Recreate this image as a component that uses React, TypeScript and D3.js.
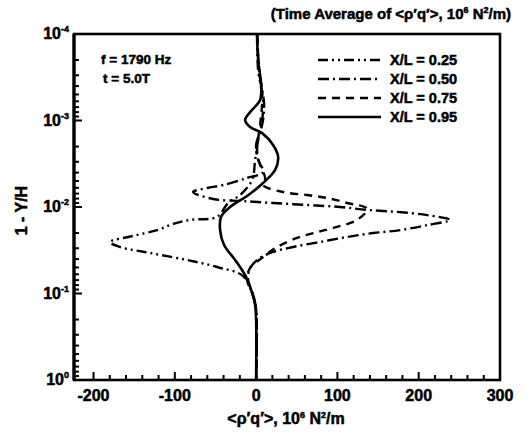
import React from "react";
import * as d3 from "d3";

type Pt = [number, number]; // [<p'q'> value, 1 - Y/H]

const xTickLabels = [-200, -100, 0, 100, 200, 300];
const yDecades = [-4, -3, -2, -1, 0];
const seriesNames = ["X/L = 0.25", "X/L = 0.50", "X/L = 0.75", "X/L = 0.95"];

const xl025: Pt[] = [
  [1.2, 1e-4], [2.5, 2.6e-4], [8.6, 5.8e-4], [7.4, 9.9e-4], [2.5, 1.68e-3],
  [-1.2, 2.86e-3], [-4.9, 4.87e-3], [-19.7, 7.27e-3], [-34.4, 8.99e-3],
  [-48, 1.3e-2], [-81.2, 1.41e-2], [-102, 1.57e-2], [-121.8, 1.85e-2],
  [-151.3, 2.16e-2], [-179.6, 2.54e-2], [-167.3, 2.9e-2], [-130.4, 3.4e-2],
  [-84.9, 4.1e-2], [-48, 4.94e-2], [-16, 6.28e-2], [-4.9, 9.86e-2],
  [0, 0.155], [0, 1],
];

const xl050: Pt[] = [
  [1.2, 1e-4], [3.7, 2.6e-4], [9.8, 6.6e-4], [7.4, 1.13e-3], [0, 1.92e-3],
  [2.5, 2.86e-3], [8.6, 3.94e-3], [-11.1, 4.62e-3], [-40.6, 5.57e-3],
  [-60.3, 6.03e-3], [-77.5, 6.71e-3], [-52.9, 8.09e-3], [-16, 8.53e-3],
  [20.9, 8.99e-3], [62.7, 9.48e-3], [103.3, 1.0e-2], [136.5, 1.08e-2],
  [173.4, 1.14e-2], [210.3, 1.24e-2], [238.6, 1.41e-2], [210.3, 1.62e-2],
  [177.1, 1.85e-2], [143.9, 2.0e-2], [111.9, 2.22e-2], [78.7, 2.54e-2],
  [45.5, 2.9e-2], [20.9, 3.31e-2], [4.9, 3.89e-2], [-7.4, 5.07e-2],
  [-9.8, 6.98e-2], [-3.7, 0.104], [0, 0.155], [0, 1],
];

const xl075: Pt[] = [
  [1.2, 1e-4], [3.7, 2.6e-4], [7.4, 5.8e-4], [4.9, 1.13e-3], [1.2, 2.19e-3],
  [4.9, 3.27e-3], [11.1, 4.62e-3], [8.6, 5.57e-3], [33.2, 6.71e-3],
  [62.7, 7.27e-3], [87.3, 7.87e-3], [111.9, 8.99e-3], [136.5, 1.05e-2],
  [124.2, 1.41e-2], [99.6, 1.7e-2], [75, 1.95e-2], [50.4, 2.28e-2],
  [25.8, 2.9e-2], [8.6, 3.79e-2], [-7.4, 5.07e-2], [-11.1, 6.98e-2],
  [-3.7, 0.104], [0, 0.155], [0, 1],
];

const xl095: Pt[] = [
  [1.2, 1e-4], [2.5, 2.0e-4], [6.2, 3.9e-4], [4.9, 5.8e-4], [-7.4, 8.0e-4],
  [-13.5, 9.9e-4], [-7.4, 1.19e-3], [7.4, 1.4e-3], [20.9, 1.92e-3],
  [27.1, 2.64e-3], [23.4, 3.73e-3], [8.6, 5.28e-3], [-11.1, 7.46e-3],
  [-32, 1.0e-2], [-43.1, 1.3e-2], [-44.3, 1.85e-2], [-39.4, 2.75e-2],
  [-25.8, 4.1e-2], [-12.3, 6.44e-2], [-4.9, 9.86e-2], [-1.2, 0.136],
  [0, 0.202], [0, 1],
];

const seriesData = [xl025, xl050, xl075, xl095];
const dashes = ["10,4,2,4,2,4", "11,4,2,4", "8,6", ""];

const FONT = "'Liberation Sans', Arial, Helvetica, sans-serif";

export default function App() {
  const W = 530, H = 435;
  const left = 74, right = 500, top = 34, bottom = 380;

  const x = d3.scaleLinear().domain([-224, 300]).range([left, right]);
  const y = d3.scaleLog().domain([1e-4, 1]).range([top, bottom]);

  const line = d3
    .line<Pt>()
    .x((d) => x(d[0]))
    .y((d) => y(d[1]))
    .curve(d3.curveCatmullRom.alpha(0.5));

  const xMinor = d3.range(-200, 300, 20);
  const yMinor: number[] = [];
  for (let d = -4; d < 0; d++) {
    for (let k = 2; k <= 9; k++) yMinor.push(k * Math.pow(10, d));
  }

  const legendY = [60, 79, 98, 117];
  // heavy print look for all lettering
  const ink = { stroke: "#000", strokeWidth: 0.5 };

  return (
    <svg
      width={W}
      height={H}
      style={{ position: "absolute", left: 0, top: 0, background: "#fff" }}
      fontFamily={FONT}
      fontWeight="bold"
    >
      {/* title */}
      <text x={511} y={19} fontSize={15} textAnchor="end" {...ink}>
        (Time Average of &lt;ρ′q′&gt;, 10
        <tspan dy={-6} fontSize={9}>6</tspan>
        <tspan dy={6}> N</tspan>
        <tspan dy={-6} fontSize={9}>2</tspan>
        <tspan dy={6}>/m)</tspan>
      </text>

      {/* curves */}
      <g fill="none" stroke="#000" strokeLinejoin="round">
        {seriesData.map((s, i) => (
          <path
            key={i}
            d={line(s) || ""}
            strokeWidth={i === 3 ? 2.6 : 2.4}
            strokeDasharray={dashes[i] || undefined}
          />
        ))}
      </g>

      {/* frame */}
      <rect x={left} y={top} width={right - left} height={bottom - top} fill="none" stroke="#000" strokeWidth={2.6} />
      <line x1={left} x2={left} y1={top} y2={bottom} stroke="#000" strokeWidth={3.2} />

      {/* x ticks (inward) */}
      <g stroke="#000" strokeWidth={2}>
        {xMinor.map((v) => (
          <line key={v} x1={x(v)} x2={x(v)} y1={bottom} y2={bottom - (v % 100 === 0 ? 8 : 5)} />
        ))}
      </g>
      {/* y ticks (inward) */}
      <g stroke="#000" strokeWidth={2}>
        {yDecades.map((d) => (
          <line key={"M" + d} x1={left} x2={left + 8} y1={y(Math.pow(10, d))} y2={y(Math.pow(10, d))} />
        ))}
        {yMinor.map((v, i) => (
          <line key={"m" + i} x1={left} x2={left + 5} y1={y(v)} y2={y(v)} />
        ))}
      </g>

      {/* x tick labels */}
      <g fontSize={16} textAnchor="middle" {...ink}>
        {xTickLabels.map((v) => (
          <text key={v} x={x(v)} y={401}>{v}</text>
        ))}
      </g>
      {/* y tick labels */}
      <g fontSize={16} {...ink}>
        {yDecades.map((d) => (
          <text key={d} x={left - 5} y={y(Math.pow(10, d)) + 5} textAnchor="end">
            10
            <tspan dy={-7} fontSize={9}>{d === 0 ? "0" : `-${-d}`}</tspan>
          </text>
        ))}
      </g>

      {/* axis titles */}
      <text x={286} y={424} fontSize={16} textAnchor="middle" {...ink}>
        &lt;ρ′q′&gt;, 10
        <tspan dy={-6} fontSize={9}>6</tspan>
        <tspan dy={6}> N</tspan>
        <tspan dy={-6} fontSize={9}>2</tspan>
        <tspan dy={6}>/m</tspan>
      </text>
      <text transform={`translate(27,${y(0.011)}) rotate(-90)`} fontSize={16} textAnchor="middle" {...ink}>
        1 - Y/H
      </text>

      {/* annotations */}
      <text x={101} y={64} fontSize={13.5} {...ink}>f = 1790 Hz</text>
      <text x={103} y={83} fontSize={13.5} {...ink}>t = 5.0T</text>

      {/* legend */}
      {seriesNames.map((n, i) => (
        <g key={n}>
          <line
            x1={318}
            x2={381}
            y1={legendY[i]}
            y2={legendY[i]}
            stroke="#000"
            strokeWidth={2.4}
            strokeDasharray={dashes[i] || undefined}
          />
          <text x={390} y={legendY[i] + 5} fontSize={14.5} {...ink}>{n}</text>
        </g>
      ))}
    </svg>
  );
}
